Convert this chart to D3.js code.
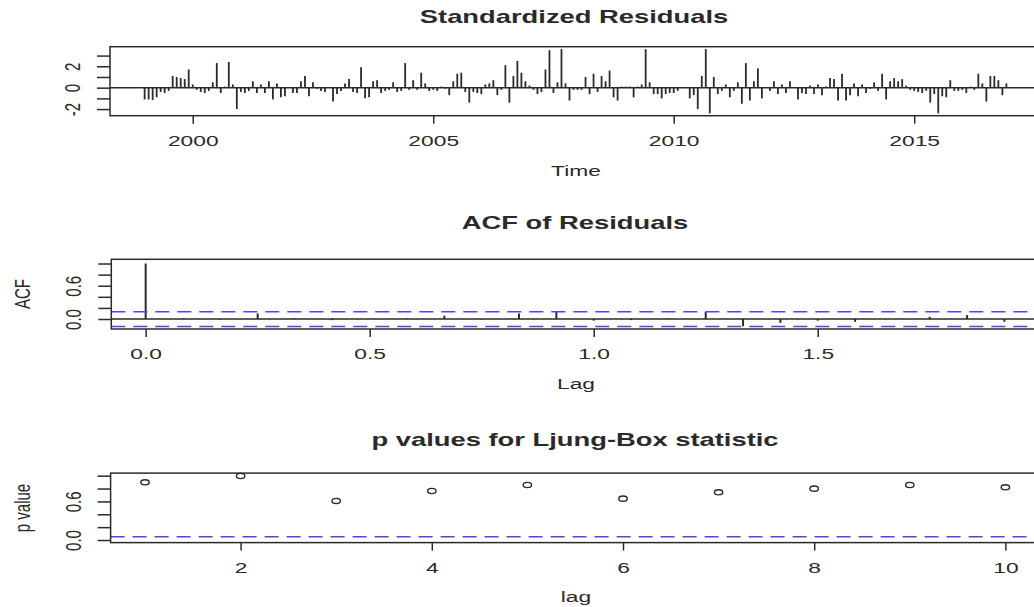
<!DOCTYPE html>
<html>
<head>
<meta charset="utf-8">
<script src="https://cdn.jsdelivr.net/npm/d3@7"></script>
<style>
  body { margin: 0; background: #fff; }
  svg { display: block; font-family: "Liberation Sans", Arial, sans-serif; }
</style>
</head>
<body>
<svg id="chart" width="1034" height="607"></svg>
<script>
// monthly standardized residuals, Jan 1999 .. Dec 2016
var startYear = 1999;
var residuals = [
  -1.1, -1.1, -1.15, -0.9, -0.4, -0.5, -0.3, 1.1, 1.0, 0.9, 0.8, 1.7,
  0.3, -0.2, -0.4, -0.5, -0.3, 0.5, 2.3, -0.5, 0.1, 2.4, 0.3, -2.0,
  -0.4, -0.5, -0.3, 0.6, -0.5, 0.3, -0.5, 0.6, -1.1, 0.4, -0.9, -0.8,
  0.0, -0.5, -0.5, 0.6, 1.1, -0.8, 0.5, -0.1, -0.3, -0.4, 0.0, -1.3,
  -0.6, -0.3, 0.4, 0.8, -0.4, -0.5, 1.9, -1.0, -0.9, 0.6, 0.7, -0.5,
  -0.3, -0.2, 0.5, -0.4, -0.3, 2.3, -0.2, 0.7, -0.2, 1.4, 0.4, -0.3,
  -0.2, -0.3, 0.1, -0.1, -0.7, 0.6, 1.3, 1.4, -0.4, -1.4, -0.4, -0.5,
  -0.6, 0.3, 0.4, 0.7, -0.7, -0.2, 2.1, -1.4, 1.1, 2.5, 1.4, 0.6,
  0.2, -0.2, -0.6, -0.4, 1.7, 3.5, -0.5, 0.5, 3.6, 0.4, -1.2, -0.2,
  -0.2, -0.2, 1.0, -0.6, 1.3, -0.4, 1.1, 0.6, 1.6, -0.9, -1.2, 0.1,
  0.1, 0.1, -0.9, 0.1, 0.3, 3.6, 0.5, -0.6, -0.6, -1.0, -0.6, -0.5,
  -0.5, -0.3, 0.0, 0.0, -1.0, -0.7, -2.0, 1.1, 3.6, -2.4, 1.0, -0.6,
  -0.3, 0.3, -0.9, -0.3, 0.5, -1.5, 2.3, -1.2, 0.6, 1.8, -1.0, 0.0,
  -0.3, 0.6, -0.6, 0.3, -0.5, 0.6, 0.0, -1.1, -0.5, -0.6, 0.2, -0.6,
  0.3, -0.7, 0.1, 0.9, 0.8, -1.2, 1.3, -1.2, -0.7, 0.4, -0.8, 0.3,
  -0.5, -0.1, 0.5, -0.3, 1.3, -1.1, 0.6, 0.9, 0.6, 0.8, 0.2, -0.2,
  -0.3, -0.4, -0.5, -0.3, -1.4, -0.6, -2.4, -0.8, -0.9, 0.7, -0.3, -0.3,
  -0.2, -0.5, 0.1, -0.2, 1.3, 0.4, -1.3, 1.1, 1.1, 0.7, -0.7, 0.4
];
var residYTicks = [-2, -1, 0, 1, 2, 3];
var residYLabels = ["-2", "", "0", "", "2", ""];
var residXTicks = [2000, 2005, 2010, 2015];

// acf of residuals, lag 0..23 months (plotted in years)
var acfValues = [1.0, 0.01, -0.01, 0.10, 0.01, -0.02, 0.0, 0.01, 0.06, -0.01,
  0.10, 0.13, -0.03, -0.02, 0.01, 0.13, -0.13, -0.07, -0.03, -0.05,
  0.0, 0.04, 0.07, -0.05];
var acfBand = 0.133;
var acfXTicks = [0, 0.5, 1.0, 1.5];
var acfXLabels = ["0.0", "0.5", "1.0", "1.5"];
var acfYTicks = [0, 0.2, 0.4, 0.6, 0.8, 1.0];
var acfYLabels = ["0.0", "", "", "0.6", "", ""];

// Ljung-Box p values
var pLags = [1, 2, 3, 4, 5, 6, 7, 8, 9, 10];
var pValues = [0.897, 0.995, 0.607, 0.762, 0.855, 0.643, 0.742, 0.798, 0.855, 0.819];
var pXTicks = [2, 4, 6, 8, 10];
var pYTicks = [0, 0.2, 0.4, 0.6, 0.8, 1.0];
var pYLabels = ["0.0", "", "", "0.6", "", ""];

var SX = 1.52; // the picture is stretched sideways
var ink = "#2a2a2a";
var blue = "#4646ff";

var svg = d3.select("#chart");

function label(x, y, s, opt) {
  opt = opt || {};
  var t = "translate(" + x + "," + y + ") scale(" + SX + ",1)";
  if (opt.rot) t += " rotate(-90)";
  return svg.append("text")
    .attr("transform", t)
    .attr("text-anchor", "middle")
    .attr("font-size", opt.size || 15)
    .attr("font-weight", opt.bold ? "bold" : "normal")
    .attr("fill", ink)
    .text(s);
}

function frame(x, y) {
  var r = x.range(), d = y.range();
  svg.append("rect")
    .attr("x", r[0]).attr("y", d[1])
    .attr("width", r[1] - r[0]).attr("height", d[0] - d[1])
    .attr("fill", "none").attr("stroke", ink).attr("stroke-width", 1.5);
}

function axes(x, y, xt, xl, yt, yl) {
  var bottom = y.range()[0], left = x.range()[0];
  var gx = svg.append("g")
    .attr("transform", "translate(0," + bottom + ")")
    .call(d3.axisBottom(x).tickValues(xt).tickSize(8).tickSizeOuter(0)
      .tickFormat(function(d, i) { return xl[i]; }));
  var gy = svg.append("g")
    .attr("transform", "translate(" + left + ",0)")
    .call(d3.axisLeft(y).tickValues(yt).tickSize(13).tickSizeOuter(0)
      .tickFormat(function(d, i) { return yl[i]; }));
  [gx, gy].forEach(function(g) {
    g.select(".domain").remove();
    g.selectAll("line").attr("stroke", ink).attr("stroke-width", 1.5);
    g.selectAll("text").attr("fill", ink).attr("font-size", 15)
      .attr("font-family", "Liberation Sans, Arial, sans-serif");
  });
  gx.selectAll("text").attr("y", 0).attr("dy", 0)
    .attr("transform", "translate(0,30) scale(" + SX + ",1)");
  gy.selectAll("text").attr("x", 0).attr("dy", 0).attr("text-anchor", "middle")
    .attr("transform", "translate(-30,0) scale(" + SX + ",1) rotate(-90)");
}

// ---- panel 1: standardized residuals
var x1 = d3.scaleLinear().domain([1998.28, 2017.63]).range([110, 1040.7]);
var y1 = d3.scaleLinear().domain([-2.62, 3.83]).range([115.7, 46.7]);
svg.append("g").selectAll("line")
  .data(residuals).enter().append("line")
  .attr("x1", function(d, i) { return x1(startYear + i / 12); })
  .attr("x2", function(d, i) { return x1(startYear + i / 12); })
  .attr("y1", y1(0))
  .attr("y2", function(d) { return y1(d); })
  .attr("stroke", ink).attr("stroke-width", 1.8);
svg.append("line")
  .attr("x1", x1.range()[0]).attr("x2", x1.range()[1])
  .attr("y1", y1(0)).attr("y2", y1(0))
  .attr("stroke", ink).attr("stroke-width", 1.5);
frame(x1, y1);
axes(x1, y1, residXTicks, residXTicks.map(String), residYTicks, residYLabels);
label(574, 23, "Standardized Residuals", {size: 18, bold: true});
label(576, 176, "Time");

// ---- panel 2: ACF of residuals
var x2 = d3.scaleLinear().domain([-0.0767, 1.993]).range([111.3, 1038.6]);
var y2 = d3.scaleLinear().domain([-0.18, 1.076]).range([329, 259.3]);
svg.append("line")
  .attr("x1", x2.range()[0]).attr("x2", x2.range()[1])
  .attr("y1", y2(0)).attr("y2", y2(0))
  .attr("stroke", ink).attr("stroke-width", 1.5);
svg.append("g").selectAll("line")
  .data(acfValues).enter().append("line")
  .attr("x1", function(d, i) { return x2(i / 12); })
  .attr("x2", function(d, i) { return x2(i / 12); })
  .attr("y1", y2(0))
  .attr("y2", function(d) { return y2(d); })
  .attr("stroke", ink).attr("stroke-width", 2);
[acfBand, -acfBand].forEach(function(v) {
  svg.append("line")
    .attr("x1", x2.range()[0]).attr("x2", x2.range()[1])
    .attr("y1", y2(v)).attr("y2", y2(v))
    .attr("stroke", blue).attr("stroke-width", 1.5)
    .attr("stroke-dasharray", "14,8");
});
frame(x2, y2);
axes(x2, y2, acfXTicks, acfXLabels, acfYTicks, acfYLabels);
label(575, 229, "ACF of Residuals", {size: 18, bold: true});
label(576, 389, "Lag");
label(30, 294, "ACF", {rot: true});

// ---- panel 3: Ljung-Box p values
var x3 = d3.scaleLinear().domain([0.64, 10.36]).range([110.6, 1039.8]);
var y3 = d3.scaleLinear().domain([-0.04, 1.04]).range([542.6, 473.1]);
svg.append("line")
  .attr("x1", x3.range()[0]).attr("x2", x3.range()[1])
  .attr("y1", y3(0.05)).attr("y2", y3(0.05))
  .attr("stroke", blue).attr("stroke-width", 1.5)
  .attr("stroke-dasharray", "14,8");
svg.append("g").selectAll("ellipse")
  .data(pValues).enter().append("ellipse")
  .attr("cx", function(d, i) { return x3(pLags[i]); })
  .attr("cy", function(d) { return y3(d); })
  .attr("rx", 4.2).attr("ry", 2.6)
  .attr("fill", "none").attr("stroke", ink).attr("stroke-width", 1.4);
frame(x3, y3);
axes(x3, y3, pXTicks, pXTicks.map(String), pYTicks, pYLabels);
label(575, 446, "p values for Ljung-Box statistic", {size: 18, bold: true});
label(576, 602, "lag");
label(30, 508, "p value", {rot: true});
</script>
</body>
</html>
